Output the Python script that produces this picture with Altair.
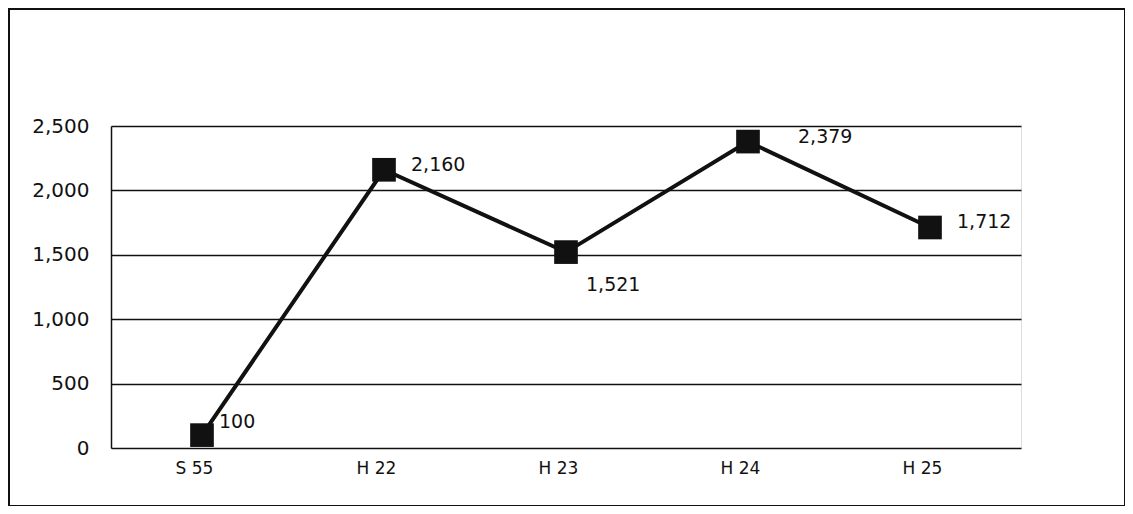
import altair as alt
import pandas as pd

categories = ["S 55", "H 22", "H 23", "H 24", "H 25"]
values = [100, 2160, 1521, 2379, 1712]
labels = ["100", "2,160", "1,521", "2,379", "1,712"]

df = pd.DataFrame({"cat": categories, "val": values, "lab": labels})

INK = "#111111"
FONT = "DejaVu Sans"

x = alt.X("cat:N", sort=categories, title=None,
          scale=alt.Scale(type="point", padding=0.5),
          axis=alt.Axis(domain=False, ticks=False, labelAngle=0, labelFontSize=17,
                        labelColor=INK, labelFont=FONT, labelPadding=12, labelOffset=-8,
                        grid=False))
y = alt.Y("val:Q", title=None,
          scale=alt.Scale(domain=[0, 2500], nice=False),
          axis=alt.Axis(values=[0, 500, 1000, 1500, 2000, 2500], format=",d",
                        ticks=False, domain=True, domainColor=INK, domainWidth=1.5,
                        grid=True, gridColor=INK, gridWidth=1.5, gridOpacity=1,
                        labelFontSize=20, labelColor=INK, labelFont=FONT,
                        labelPadding=22))

base = alt.Chart(df).encode(x=x, y=y)

line = base.mark_line(color=INK, strokeWidth=4)
pts = base.mark_point(shape="square", filled=True, color=INK, size=560, opacity=1)

def lbl(cats, dx, dy):
    return base.transform_filter(
        alt.FieldOneOfPredicate(field="cat", oneOf=cats)
    ).mark_text(align="left", baseline="middle", dx=dx, dy=dy, fontSize=19,
                font=FONT, color=INK).encode(text="lab:N")

t_default = lbl(["H 22", "H 25"], 27, -5)
t_100 = lbl(["S 55"], 17, -13)
t_1521 = lbl(["H 23"], 20, 33)
t_2379 = lbl(["H 24"], 50, -5)

frame = alt.Chart(df).mark_rect(fill=None, stroke=INK, strokeWidth=1.5).encode(
    x=alt.value(-102), x2=alt.value(1014), y=alt.value(-117), y2=alt.value(380)
)

chart = alt.layer(frame, line, pts, t_default, t_100, t_1521, t_2379).properties(
    width=910, height=322,
    autosize=alt.AutoSizeParams(type="none"),
    padding={"left": 103, "top": 118, "right": 104, "bottom": 58},
).configure_view(stroke="transparent", strokeWidth=0).configure(background="white")

chart.save("out.html", embed_options={"renderer": "svg", "actions": False})
